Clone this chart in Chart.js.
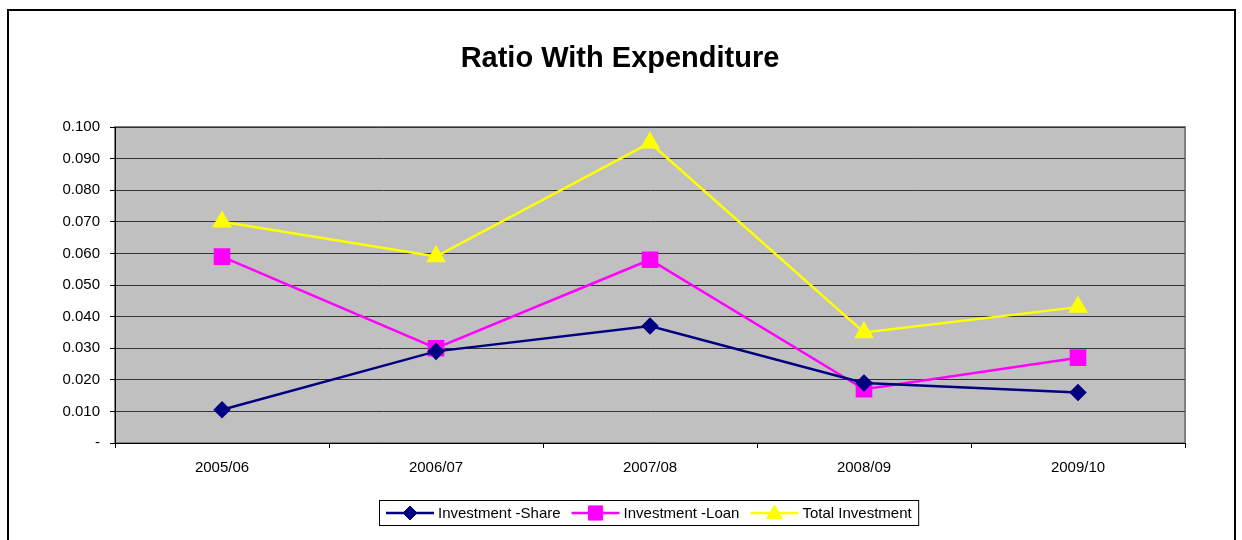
<!DOCTYPE html>
<html>
<head>
<meta charset="utf-8">
<script src="https://cdn.jsdelivr.net/npm/chart.js@4/dist/chart.umd.min.js"></script>
<style>
	html, body { margin: 0; padding: 0; background: #fff; }
	#wrap { width: 1242px; height: 540px; }
</style>
</head>
<body>
<div id="wrap"><canvas id="ratioChart" width="1242" height="540"></canvas></div>
<script>
// Ratio with expenditure
const years = ["2005/06", "2006/07", "2007/08", "2008/09", "2009/10"];
const shareRatio = [0.0105, 0.029, 0.037, 0.019, 0.016];
const loanRatio = [0.059, 0.030, 0.058, 0.017, 0.027];
const totalRatio = [0.070, 0.059, 0.095, 0.035, 0.043];
const seriesNames = ["Investment -Share", "Investment -Loan", "Total Investment"];

const FONT = "'Liberation Sans', Arial, sans-serif";

// white page with the black outer frame, grey plot area, title and legend
const frame = {
	id: "frame",
	beforeDraw(chart) {
		const { ctx, chartArea: a } = chart;
		ctx.save();
		ctx.fillStyle = "#fff";
		ctx.fillRect(0, 0, chart.width, chart.height);
		ctx.strokeStyle = "#000";
		ctx.lineWidth = 2;
		ctx.beginPath();
		ctx.moveTo(8, 560);
		ctx.lineTo(8, 10);
		ctx.lineTo(1235, 10);
		ctx.lineTo(1235, 560);
		ctx.stroke();
		ctx.fillStyle = "#c0c0c0";
		ctx.fillRect(a.left, a.top, a.right - a.left, a.bottom - a.top);
		ctx.strokeStyle = "#808080";
		ctx.lineWidth = 2;
		ctx.strokeRect(a.left, a.top, a.right - a.left, a.bottom - a.top);
		ctx.restore();
	},
	afterDraw(chart) {
		const { ctx } = chart;
		ctx.save();
		// title
		ctx.fillStyle = "#000";
		ctx.font = "bold 29px " + FONT;
		ctx.textAlign = "center";
		ctx.textBaseline = "middle";
		ctx.fillText("Ratio With Expenditure", 620, 59);

		// legend box: line + marker + name for each dataset
		ctx.font = "15px " + FONT;
		ctx.textAlign = "left";
		const sets = chart.data.datasets;
		const lineLen = 48, gap = 4, itemGap = 11;
		const y = 513;
		let x = 386;
		sets.forEach((ds) => {
			ctx.strokeStyle = ds.borderColor;
			ctx.fillStyle = ds.borderColor;
			ctx.lineWidth = 2.5;
			ctx.beginPath();
			ctx.moveTo(x, y);
			ctx.lineTo(x + lineLen, y);
			ctx.stroke();
			ctx.lineWidth = 1;
			Chart.helpers.drawPoint(ctx, {
				pointStyle: ds.pointStyle,
				radius: ds.pointRadius,
				borderWidth: 1
			}, x + lineLen / 2, ds.pointStyle === "triangle" ? y + 1 : y);
			ctx.fillStyle = "#000";
			ctx.fillText(ds.label, x + lineLen + gap, y + 1);
			x += lineLen + gap + ctx.measureText(ds.label).width + itemGap;
		});
		ctx.strokeStyle = "#000";
		ctx.lineWidth = 1;
		ctx.strokeRect(379.5, 500.5, x - itemGap + 7 - 379.5, 25);
		ctx.restore();
	}
};

function line(label, data, color, style, radius) {
	return {
		label,
		data,
		borderColor: color,
		backgroundColor: color,
		pointBackgroundColor: color,
		pointBorderColor: color,
		pointStyle: style,
		pointRadius: radius,
		pointHoverRadius: radius,
		borderWidth: 2.5,
		tension: 0
	};
}

new Chart(document.getElementById("ratioChart"), {
	type: "line",
	data: {
		labels: years,
		datasets: [
			line(seriesNames[0], shareRatio, "#000080", "rectRot", 7),
			line(seriesNames[1], loanRatio, "#ff00ff", "rect", 10),
			line(seriesNames[2], totalRatio, "#ffff00", "triangle", 9)
		]
	},
	plugins: [frame],
	options: {
		responsive: false,
		animation: false,
		events: [],
		layout: { padding: { left: 0, right: 57, top: 127, bottom: 67 } },
		plugins: {
			legend: { display: false },
			title: { display: false },
			tooltip: { enabled: false }
		},
		scales: {
			x: {
				offset: true,
				afterFit(scale) { scale.height = 30; },
				grid: {
					offset: true,
					drawOnChartArea: false,
					drawTicks: true,
					tickLength: 5,
					color: "#000"
				},
				border: { color: "#000", width: 1 },
				ticks: { color: "#000", font: { family: FONT, size: 15 }, padding: 11, maxRotation: 0 }
			},
			y: {
				min: 0,
				max: 0.1,
				afterFit(scale) { scale.width = 115; },
				grid: {
					color: "#333",
					lineWidth: 1,
					tickLength: 5,
					tickColor: "#000"
				},
				border: { color: "#000", width: 1 },
				ticks: {
					stepSize: 0.01,
					color: "#000",
					padding: 10,
					font: { family: FONT, size: 15 },
					callback: (v) => (Math.abs(v) < 1e-9 ? "-" : v.toFixed(3))
				}
			}
		}
	}
});
</script>
</body>
</html>
